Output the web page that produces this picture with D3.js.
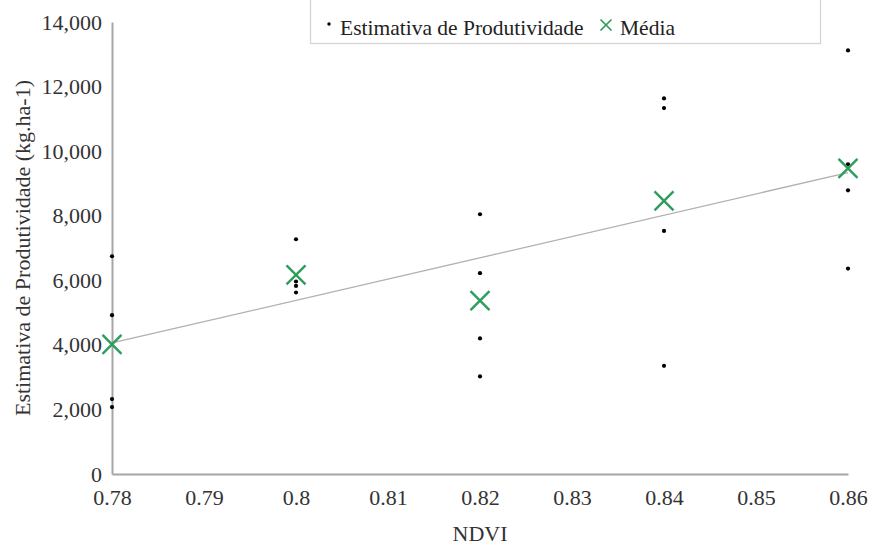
<!DOCTYPE html>
<html>
<head>
<meta charset="utf-8">
<script src="https://cdn.jsdelivr.net/npm/d3@7"></script>
<style>
  html, body { margin: 0; padding: 0; background: #fff; }
  svg { display: block; font-family: "Liberation Serif", "Times New Roman", serif; }
  svg text { font-family: "Liberation Serif", "Times New Roman", serif; }
</style>
</head>
<body>
<svg id="chart" width="870" height="545"></svg>
<script>
// NDVI classes on the x axis
const ndviValues = [0.78, 0.80, 0.82, 0.84, 0.86];
// Productivity estimates (kg.ha-1) for each NDVI class
const estimates = [
  [6745, 4920, 2320, 2073],
  [7271, 5962, 5826, 5622],
  [8045, 6219, 4199, 3023],
  [11634, 11334, 7528, 3351],
  [13119, 9592, 8787, 6364]
];
const xTicks = [0.78, 0.79, 0.80, 0.81, 0.82, 0.83, 0.84, 0.85, 0.86];
const yTicks = [0, 2000, 4000, 6000, 8000, 10000, 12000, 14000];

const svg = d3.select("#chart");
const plotLeft = 112, plotRight = 848, plotTop = 22, plotBottom = 474;

const x = d3.scaleLinear().domain([0.78, 0.86]).range([plotLeft, plotRight]);
const y = d3.scaleLinear().domain([0, 14000]).range([plotBottom, plotTop]);

const axisColor = "#a6a6a6";
const textColor = "#333";

// Y axis
const yAxis = svg.append("g")
  .attr("transform", `translate(${plotLeft},0)`)
  .call(d3.axisLeft(y).tickValues(yTicks).tickSize(0).tickPadding(10)
    .tickFormat(d3.format(",")));
yAxis.select(".domain").attr("stroke", axisColor).attr("stroke-width", 2);
yAxis.selectAll("text").style("font-size", "22px").attr("fill", textColor);

// X axis
const xAxis = svg.append("g")
  .attr("transform", `translate(0,${plotBottom})`)
  .call(d3.axisBottom(x).tickValues(xTicks).tickSize(0).tickPadding(15)
    .tickFormat(d => String(+d.toFixed(2))));
xAxis.select(".domain").attr("stroke", axisColor).attr("stroke-width", 2);
xAxis.selectAll("text").style("font-size", "22px").attr("fill", textColor);

// Axis titles
svg.append("text")
  .attr("x", (plotLeft + plotRight) / 2).attr("y", 541)
  .attr("text-anchor", "middle").style("font-size", "22px").attr("fill", textColor)
  .text("NDVI");
svg.append("text")
  .attr("transform", `translate(30,${(plotTop + plotBottom) / 2}) rotate(-90)`)
  .attr("text-anchor", "middle").style("font-size", "22px").attr("fill", textColor)
  .text("Estimativa de Produtividade (kg.ha-1)");

// Flattened points and class means
const points = [];
ndviValues.forEach((nv, i) => estimates[i].forEach(v => points.push({ x: nv, y: v })));
const means = ndviValues.map((nv, i) => ({ x: nv, y: d3.mean(estimates[i]) }));

// Least-squares linear trend over all estimates
const mx = d3.mean(points, d => d.x), my = d3.mean(points, d => d.y);
const slope = d3.sum(points, d => (d.x - mx) * (d.y - my)) / d3.sum(points, d => (d.x - mx) ** 2);
const intercept = my - slope * mx;
const xDom = x.domain();
svg.append("line")
  .attr("x1", x(xDom[0])).attr("y1", y(intercept + slope * xDom[0]))
  .attr("x2", x(xDom[1])).attr("y2", y(intercept + slope * xDom[1]))
  .attr("stroke", "#b0b0b0").attr("stroke-width", 1.3);

// Individual estimates
svg.append("g").selectAll("circle").data(points).join("circle")
  .attr("cx", d => x(d.x)).attr("cy", d => y(d.y)).attr("r", 2.1)
  .attr("fill", "#000");

// Class means drawn as crosses
const green = "#2f9e5c";
const crossPath = s => `M${-s},${-s}L${s},${s}M${-s},${s}L${s},${-s}`;
svg.append("g").selectAll("path").data(means).join("path")
  .attr("transform", d => `translate(${x(d.x)},${y(d.y)})`)
  .attr("d", crossPath(9.5))
  .attr("stroke", green).attr("stroke-width", 2.4).attr("fill", "none");

// Legend
const legend = svg.append("g");
legend.append("rect")
  .attr("x", 310.5).attr("y", -10).attr("width", 510).attr("height", 53.5)
  .attr("fill", "#fff").attr("stroke", "#d4d4d4").attr("stroke-width", 1.3);
legend.append("circle").attr("cx", 329).attr("cy", 24).attr("r", 1.7).attr("fill", "#000");
legend.append("text").attr("x", 340).attr("y", 35).style("font-size", "21.5px").attr("fill", "#222")
  .text("Estimativa de Produtividade");
legend.append("path").attr("transform", "translate(606,25)").attr("d", crossPath(5.5))
  .attr("stroke", green).attr("stroke-width", 1.7).attr("fill", "none");
legend.append("text").attr("x", 620).attr("y", 35).style("font-size", "21.5px").attr("fill", "#222")
  .text("Média");
</script>
</body>
</html>
